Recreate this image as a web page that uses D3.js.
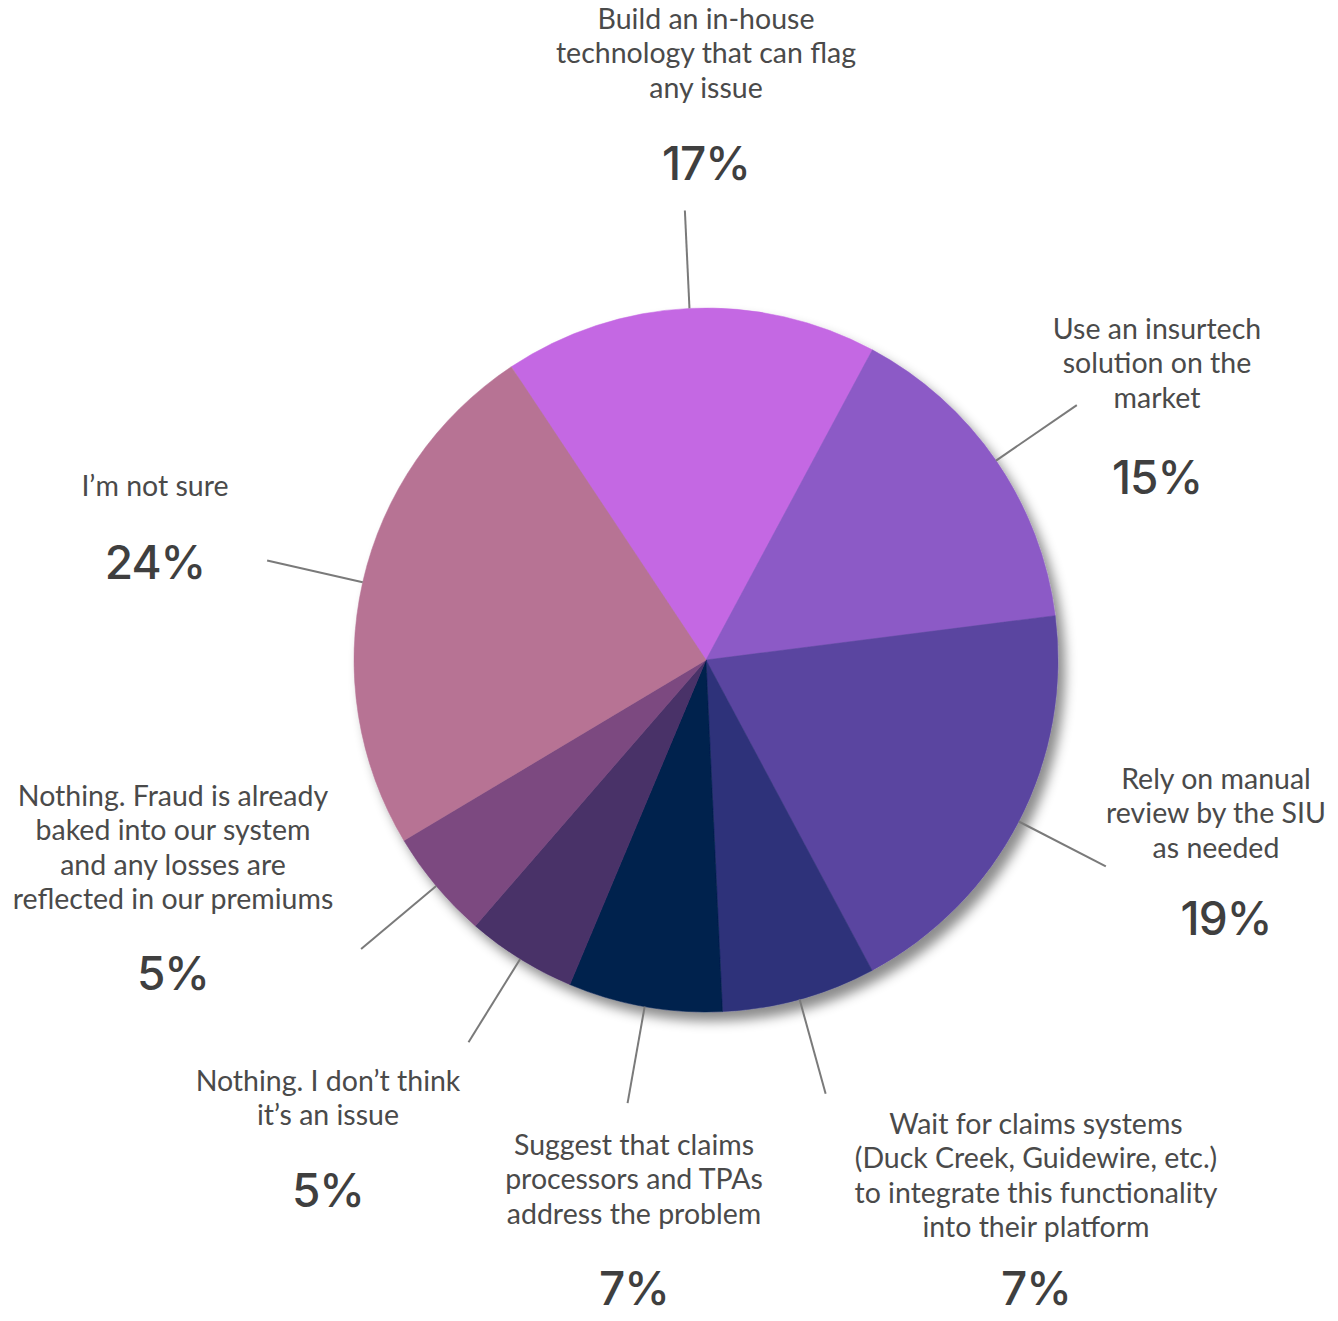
<!DOCTYPE html>
<html>
<head>
<meta charset="utf-8">
<script src="https://cdn.jsdelivr.net/npm/d3@7"></script>
<style>
  body { margin: 0; background: #fff; }
  .lbl { font-family: Lato, "Open Sans", sans-serif; font-size: 28.5px; fill: #4a4a4a; }
  .pct { font-family: Inter, "Open Sans", sans-serif; font-size: 46px; font-weight: 500; fill: #3f3f3f; letter-spacing: -1px; }
</style>
</head>
<body>
<svg width="1338" height="1321"></svg>
<script>
// slices, clockwise from the top
const labels = [
  ["Build an in-house", "technology that can flag", "any issue"],
  ["Use an insurtech", "solution on the", "market"],
  ["Rely on manual", "review by the SIU", "as needed"],
  ["Wait for claims systems", "(Duck Creek, Guidewire, etc.)", "to integrate this functionality", "into their platform"],
  ["Suggest that claims", "processors and TPAs", "address the problem"],
  ["Nothing. I don\u2019t think", "it\u2019s an issue"],
  ["Nothing. Fraud is already", "baked into our system", "and any losses are", "reflected in our premiums"],
  ["I\u2019m not sure"]
];
const values = [17, 15, 19, 7, 7, 5, 5, 24];
const colors = ["#c468e3", "#8c5ac6", "#5a45a0", "#2e327a", "#03204e", "#4a3068", "#7b4a80", "#b77394"];

// where each text block sits (x centre, y of first line, y of percent)
const labelX = [706, 1157, 1216, 1036, 634, 328, 173, 155];
const labelY = [20, 330, 780, 1125, 1146, 1082, 797, 487];
const pctX = [706, 1157, 1226, 1036, 634, 328, 173, 155];
const pctY = [163, 477, 918, 1288, 1288, 1190, 973, 562];

const cx = 706, cy = 660, r = 352, lineOuter = 450;
const startDeg = -33.6;

const svg = d3.select("svg");

const defs = svg.append("defs");
const f = defs.append("filter").attr("id", "shadow")
  .attr("x", "-10%").attr("y", "-10%").attr("width", "125%").attr("height", "125%");
f.append("feDropShadow")
  .attr("dx", 7).attr("dy", 9).attr("stdDeviation", 6)
  .attr("flood-color", "#000").attr("flood-opacity", 0.45);

const pie = d3.pie().sort(null).value(d => d)
  .startAngle(startDeg * Math.PI / 180)
  .endAngle(startDeg * Math.PI / 180 + 2 * Math.PI);
const arcs = pie(values);
const arc = d3.arc().innerRadius(0).outerRadius(r);

const g = svg.append("g").attr("transform", `translate(${cx},${cy})`);

g.append("g").attr("filter", "url(#shadow)")
  .selectAll("path")
  .data(arcs)
  .enter().append("path")
  .attr("d", arc)
  .attr("fill", (d, i) => colors[i])
  .attr("stroke", (d, i) => colors[i])
  .attr("stroke-width", 0.5);

// leader lines, radial from the rim
const mid = d => (d.startAngle + d.endAngle) / 2;
g.append("g").selectAll("line")
  .data(arcs)
  .enter().append("line")
  .attr("x1", d => r * Math.sin(mid(d)))
  .attr("y1", d => -r * Math.cos(mid(d)))
  .attr("x2", d => lineOuter * Math.sin(mid(d)))
  .attr("y2", d => -lineOuter * Math.cos(mid(d)))
  .attr("stroke", "#7a7a7a")
  .attr("stroke-width", 2);

const txt = svg.append("g");
labels.forEach((lines, i) => {
  const t = txt.append("text")
    .attr("class", "lbl")
    .attr("text-anchor", "middle")
    .attr("x", labelX[i])
    .attr("y", labelY[i] + 9);
  lines.forEach((s, k) => {
    t.append("tspan").attr("x", labelX[i]).attr("dy", k === 0 ? 0 : 34.3).text(s);
  });
  txt.append("text")
    .attr("class", "pct")
    .attr("text-anchor", "middle")
    .attr("x", pctX[i])
    .attr("y", pctY[i] + 17)
    .text(values[i] + "%");
});
</script>
</body>
</html>
